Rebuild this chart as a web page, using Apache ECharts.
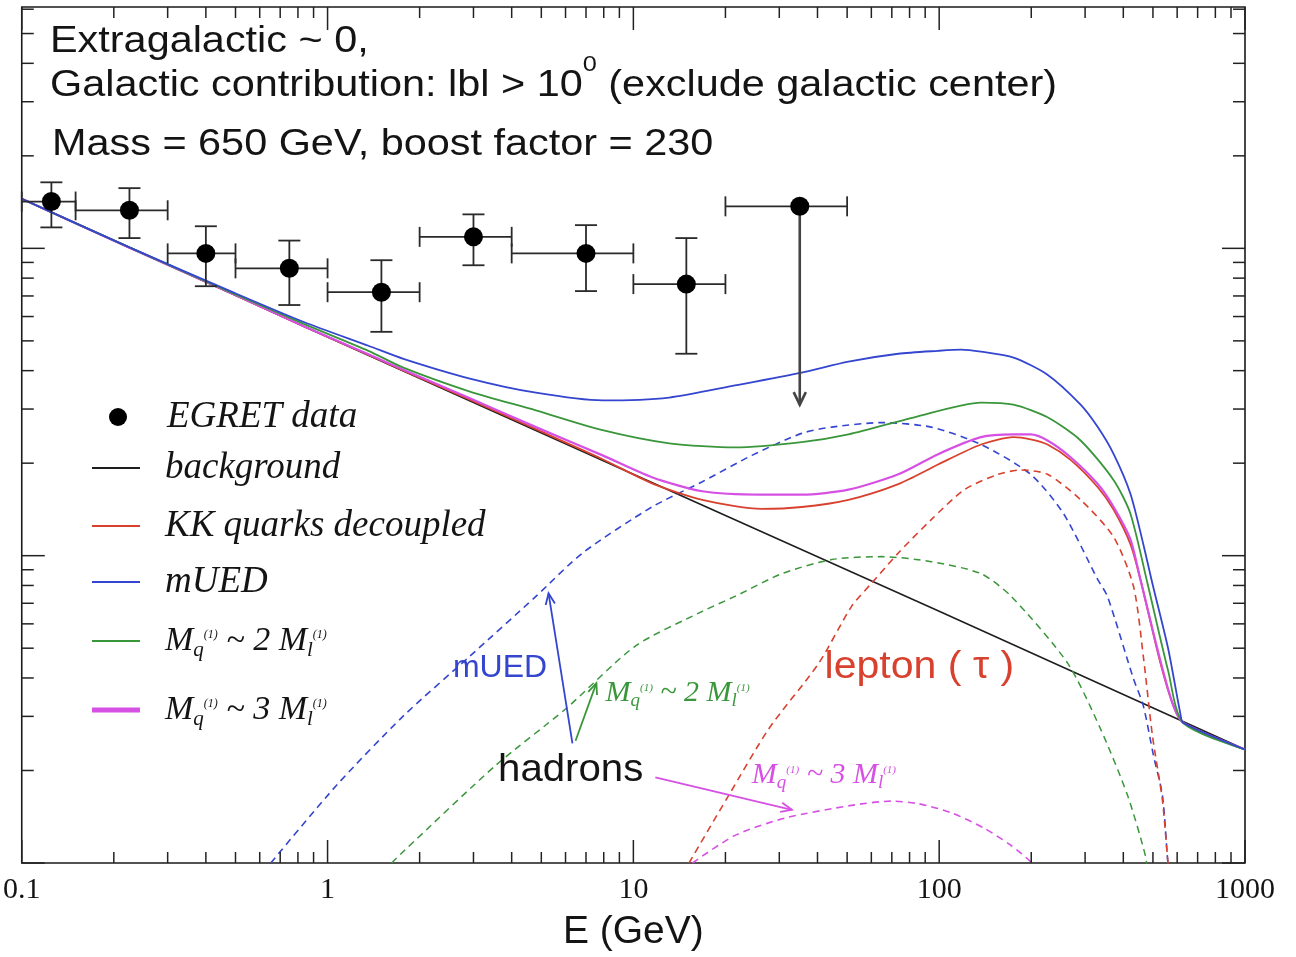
<!DOCTYPE html>
<html>
<head>
<meta charset="utf-8">
<title>Gamma-ray spectrum: EGRET data and KK dark matter annihilation</title>
<script src="https://cdn.jsdelivr.net/npm/echarts@6.0.0/dist/echarts.min.js"></script>
<style>
  html, body { margin: 0; padding: 0; background: #ffffff; }
  #chart { width: 1296px; height: 957px; }
</style>
</head>
<body>
<div id="chart"></div>
<script>
// ---------------- axis ranges and tick values ----------------
const xRange = [0.1, 1000];          // E (GeV)
const yRange = [1e-8, 6.1e-6];       // E^2 dN/dE
const xMajorTicks = [0.1, 1, 10, 100, 1000];
const xMinorTicks = [0.2, 0.3, 0.4, 0.5, 0.6, 0.7, 0.8, 0.9,
                     2, 3, 4, 5, 6, 7, 8, 9,
                     20, 30, 40, 50, 60, 70, 80, 90,
                     200, 300, 400, 500, 600, 700, 800, 900];
const yMajorTicks = [1e-8, 1e-7, 1e-6];
const yMinorTicks = [2e-8, 3e-8, 4e-8, 5e-8, 6e-8, 7e-8, 8e-8, 9e-8,
                     2e-7, 3e-7, 4e-7, 5e-7, 6e-7, 7e-7, 8e-7, 9e-7,
                     2e-6, 3e-6, 4e-6, 5e-6, 6e-6];

// ---------------- EGRET measurements ----------------
const egretE         = [0.125, 0.225, 0.40, 0.75, 1.50, 3.0, 7.0, 14.9, 35];
const egretFlux      = [1.42e-6, 1.33e-6, 9.63e-7, 8.61e-7, 7.20e-7, 1.09e-6, 9.63e-7, 7.65e-7, 1.37e-6];
const egretELow      = [0.1, 0.15, 0.3, 0.5, 1, 2, 4, 10, 20];
const egretEHigh     = [0.15, 0.3, 0.5, 1, 2, 4, 10, 20, 50];
const egretFluxLow   = [1.17e-6, 1.08e-6, 7.53e-7, 6.54e-7, 5.35e-7, 8.81e-7, 7.26e-7, 4.54e-7, 3.10e-7];
const egretFluxHigh  = [1.64e-6, 1.57e-6, 1.18e-6, 1.06e-6, 9.15e-7, 1.29e-6, 1.19e-6, 1.08e-6, 1.37e-6];
const egretUpperLimit = [0, 0, 0, 0, 0, 0, 0, 0, 1];

// ---------------- background ----------------
const backgroundE    = [0.1, 1, 10, 100, 1000];
const backgroundFlux = [1.45e-6, 5.15e-7, 1.84e-7, 6.59e-8, 2.34e-8];

// ---------------- totals (background + signal) ----------------
const muedE    = [0.1, 0.225, 0.498, 0.836, 1.36, 1.77, 2.92, 4.80, 7.93, 13.1, 21.5, 35.5, 50.5, 73.5, 99.2,
                  118, 137, 175, 226, 290, 330, 372, 422, 465, 498, 561, 614, 628, 1000];
const muedFlux = [1.45e-6, 1.007e-6, 7.15e-7, 5.76e-7, 4.82e-7, 4.37e-7, 3.77e-7, 3.39e-7, 3.20e-7, 3.27e-7,
                  3.58e-7, 3.94e-7, 4.28e-7, 4.54e-7, 4.64e-7, 4.68e-7, 4.61e-7, 4.41e-7, 3.88e-7, 3.10e-7,
                  2.62e-7, 2.14e-7, 1.59e-7, 1.09e-7, 8.12e-8, 4.97e-8, 3.08e-8, 2.86e-8, 2.34e-8];

const mq2E    = [0.1, 0.225, 0.498, 0.836, 1.36, 1.77, 2.92, 4.80, 7.93, 13.1, 21.5, 35.5, 50.5, 82.9,
                 137, 175, 226, 290, 372, 422, 480, 561, 628, 1000];
const mq2Flux = [1.45e-6, 1.007e-6, 7.10e-7, 5.68e-7, 4.64e-7, 4.09e-7, 3.42e-7, 2.97e-7, 2.56e-7, 2.32e-7,
                 2.25e-7, 2.34e-7, 2.48e-7, 2.82e-7, 3.15e-7, 3.10e-7, 2.82e-7, 2.37e-7, 1.76e-7, 1.37e-7,
                 8.12e-8, 4.21e-8, 2.86e-8, 2.34e-8];

const kkE    = [0.1, 0.225, 0.498, 0.836, 1.36, 1.77, 2.92, 4.80, 7.93, 11.5, 16.8, 26.3, 35.5, 50.5, 73.5,
                99.2, 137, 175, 199, 226, 269, 330, 372, 422, 455, 529, 583, 628, 1000];
const kkFlux = [1.45e-6, 1.005e-6, 7.06e-7, 5.57e-7, 4.50e-7, 4.00e-7, 3.22e-7, 2.58e-7, 2.06e-7, 1.72e-7,
                1.52e-7, 1.42e-7, 1.44e-7, 1.52e-7, 1.71e-7, 1.98e-7, 2.30e-7, 2.43e-7, 2.39e-7, 2.30e-7,
                2.05e-7, 1.67e-7, 1.41e-7, 1.09e-7, 8.36e-8, 4.47e-8, 3.25e-8, 2.86e-8, 2.34e-8];

const mq3E    = [0.1, 0.225, 0.498, 0.836, 1.36, 1.77, 2.92, 4.80, 7.93, 11.5, 16.8, 26.3, 35.5, 50.5, 73.5,
                 99.2, 137, 175, 199, 226, 269, 330, 372, 422, 455, 529, 583, 628, 1000];
const mq3Flux = [1.45e-6, 1.005e-6, 7.06e-7, 5.58e-7, 4.52e-7, 4.03e-7, 3.25e-7, 2.62e-7, 2.12e-7, 1.80e-7,
                 1.62e-7, 1.58e-7, 1.58e-7, 1.64e-7, 1.84e-7, 2.14e-7, 2.43e-7, 2.48e-7, 2.48e-7, 2.37e-7,
                 2.09e-7, 1.71e-7, 1.44e-7, 1.13e-7, 8.36e-8, 4.54e-8, 3.25e-8, 2.86e-8, 2.34e-8];

// ---------------- individual signal components ----------------
const muedHadronE    = [0.652, 1.07, 1.77, 2.92, 4.80, 6.82, 11.5, 16.8, 24.4, 35.5, 44.5, 64.7, 94.2, 137,
                        199, 255, 330, 355, 432, 465, 502, 537, 557, 565];
const muedHadronFlux = [1.0e-8, 1.79e-8, 3.01e-8, 4.71e-8, 7.37e-8, 1.02e-7, 1.44e-7, 1.74e-7, 2.12e-7,
                        2.50e-7, 2.62e-7, 2.71e-7, 2.62e-7, 2.30e-7, 1.84e-7, 1.37e-7, 8.36e-8, 7.37e-8,
                        3.97e-8, 3.25e-8, 2.24e-8, 1.66e-8, 1.06e-8, 0.9e-8];

const leptonE    = [15.2, 20.5, 27.7, 40.4, 51.7, 60.0, 73.5, 94.2, 121, 156, 185, 226, 290, 372, 432,
                    465, 498, 537, 557, 565];
const leptonFlux = [1.0e-8, 1.66e-8, 2.73e-8, 4.47e-8, 6.84e-8, 8.12e-8, 1.02e-7, 1.31e-7, 1.64e-7,
                    1.84e-7, 1.90e-7, 1.84e-7, 1.52e-7, 1.15e-7, 7.94e-8, 4.71e-8, 2.60e-8, 1.60e-8,
                    1.06e-8, 0.9e-8];

const mq2HadronE    = [1.62, 1.77, 3.55, 6.00, 10.15, 16.8, 21.5, 30.6, 44.5, 64.7, 94.2, 137, 172, 263,
                       337, 413, 472, 483];
const mq2HadronFlux = [1.0e-8, 1.09e-8, 2.08e-8, 3.17e-8, 5.08e-8, 6.59e-8, 7.37e-8, 8.74e-8, 9.71e-8,
                       9.93e-8, 9.56e-8, 8.74e-8, 7.37e-8, 4.47e-8, 2.73e-8, 1.66e-8, 1.06e-8, 0.9e-8];

const mq3HadronE    = [15.6, 21.5, 31.3, 51.7, 69.8, 85.4, 109, 140, 172, 199, 207];
const mq3HadronFlux = [1.0e-8, 1.23e-8, 1.40e-8, 1.54e-8, 1.59e-8, 1.56e-8, 1.46e-8, 1.30e-8, 1.14e-8,
                       1.01e-8, 0.95e-8];

// ---------------- styling ----------------
const SANS = '"Liberation Sans", Arial, Helvetica, sans-serif';
const SERIF = '"Liberation Serif", "Times New Roman", Times, serif';
const COLORS = {
  black: '#1e1e1e',
  red: '#d8412e',
  blue: '#3446cf',
  green: '#3a963a',
  magenta: '#d650e4',
  ink: '#141414'
};

const pairs = (xs, ys) => xs.map((x, i) => [x, ys[i]]);

function curve(name, xs, ys, color, width, dashed, z) {
  return {
    name: name,
    type: 'line',
    data: pairs(xs, ys),
    symbol: 'none',
    smooth: dashed === null ? false : 0.25,
    clip: true,
    silent: true,
    z: z,
    lineStyle: { color: color, width: width, type: dashed ? [7, 5] : 'solid' },
    itemStyle: { color: color },
    emphasis: { disabled: true }
  };
}

// italic "M_q(1) ~ n M_l(1)" label in rich-text markup
function massRatioText(n) {
  return '{m|M}{q|q}{s|(1)}{m| ~ ' + n + ' M}{q|l}{s|(1)}';
}
function massRatioRich(color, size) {
  const sub = Math.round(size * 0.63);
  const sup = Math.round(size * 0.37);
  return {
    m: { fontFamily: SERIF, fontStyle: 'italic', fontSize: size, lineHeight: size + 6, fill: color, color: color },
    q: { fontFamily: SERIF, fontStyle: 'italic', fontSize: sub, padding: [Math.round(size * 0.53), 0, 0, 0], fill: color, color: color },
    s: { fontFamily: SERIF, fontStyle: 'italic', fontSize: sup, padding: [0, 0, Math.round(size * 0.33), 0], fill: color, color: color }
  };
}

// ---------------- annotations placed in data coordinates ----------------
const pointerArrows = [
  { from: [6.32, 2.45e-8], to: [5.28, 7.54e-8], color: COLORS.blue },
  { from: [6.47, 2.50e-8], to: [7.57, 3.85e-8], color: COLORS.green },
  { from: [11.8, 1.90e-8], to: [33.0, 1.49e-8], color: COLORS.magenta }
];
const notes = [
  { at: [2.57, 4.31e-8], text: 'mUED', stretch: 1,
    style: { fontFamily: SANS, fontSize: 32, fill: COLORS.blue } },
  { at: [8.11, 3.58e-8], text: massRatioText(2), stretch: 1,
    style: { rich: massRatioRich(COLORS.green, 30) } },
  { at: [3.61, 2.0e-8], text: 'hadrons', stretch: 1.03,
    style: { fontFamily: SANS, fontSize: 39, fill: COLORS.ink } },
  { at: [24.4, 1.93e-8], text: massRatioText(3), stretch: 1,
    style: { rich: massRatioRich(COLORS.magenta, 30) } },
  { at: [42.2, 4.31e-8], text: 'lepton ( \u03c4 )', stretch: 1.08,
    style: { fontFamily: SANS, fontSize: 38, fill: COLORS.red } }
];

function arrowHead(x1, y1, x2, y2, len, spread) {
  const a = Math.atan2(y2 - y1, x2 - x1);
  return [
    [x2 - len * Math.cos(a - spread), y2 - len * Math.sin(a - spread)],
    [x2, y2],
    [x2 - len * Math.cos(a + spread), y2 - len * Math.sin(a + spread)]
  ];
}

// inward tick marks on all four sides of the frame
function renderXTicks(params, api) {
  const cs = params.coordSys;
  const x = api.coord([api.value(0), api.value(1)])[0];
  const len = api.value(2) ? 23 : 11;
  const bottom = cs.y + cs.height, top = cs.y;
  const st = { stroke: '#222', lineWidth: 1.5 };
  return { type: 'group', children: [
    { type: 'line', shape: { x1: x, y1: bottom, x2: x, y2: bottom - len }, style: st },
    { type: 'line', shape: { x1: x, y1: top, x2: x, y2: top + len }, style: st }
  ] };
}
function renderYTicks(params, api) {
  const cs = params.coordSys;
  const y = api.coord([api.value(0), api.value(1)])[1];
  const len = api.value(2) ? 23 : 12;
  const left = cs.x, right = cs.x + cs.width;
  const st = { stroke: '#222', lineWidth: 1.5 };
  return { type: 'group', children: [
    { type: 'line', shape: { x1: left, y1: y, x2: left + len, y2: y }, style: st },
    { type: 'line', shape: { x1: right, y1: y, x2: right - len, y2: y }, style: st }
  ] };
}

function renderErrorBar(params, api) {
  const e = api.value(0), f = api.value(1);
  const p = api.coord([e, f]);
  const l = api.coord([api.value(2), f]);
  const r = api.coord([api.value(3), f]);
  const lo = api.coord([e, api.value(4)]);
  const hi = api.coord([e, api.value(5)]);
  const upper = api.value(6) === 1;
  const st = { stroke: '#2a2a2a', lineWidth: 1.8 };
  const capH = 10, capV = 11;
  const kids = [
    { type: 'line', shape: { x1: l[0], y1: l[1], x2: r[0], y2: r[1] }, style: st },
    { type: 'line', shape: { x1: l[0], y1: l[1] - capH, x2: l[0], y2: l[1] + capH }, style: st },
    { type: 'line', shape: { x1: r[0], y1: r[1] - capH, x2: r[0], y2: r[1] + capH }, style: st }
  ];
  if (!upper) {
    kids.push(
      { type: 'line', shape: { x1: lo[0], y1: lo[1], x2: hi[0], y2: hi[1] }, style: st },
      { type: 'line', shape: { x1: lo[0] - capV, y1: lo[1], x2: lo[0] + capV, y2: lo[1] }, style: st },
      { type: 'line', shape: { x1: hi[0] - capV, y1: hi[1], x2: hi[0] + capV, y2: hi[1] }, style: st }
    );
  } else {
    const ast = { stroke: '#444', lineWidth: 2.6, fill: null };
    kids.push(
      { type: 'line', shape: { x1: p[0], y1: p[1], x2: lo[0], y2: lo[1] }, style: ast },
      { type: 'polyline', shape: { points: arrowHead(p[0], p[1], lo[0], lo[1], 14, 0.45) }, style: ast }
    );
  }
  return { type: 'group', children: kids };
}

function renderArrows(params, api) {
  const a = pointerArrows[api.value(4)];
  const p1 = api.coord([api.value(0), api.value(1)]);
  const p2 = api.coord([api.value(2), api.value(3)]);
  const st = { stroke: a.color, lineWidth: 1.8, fill: null };
  return { type: 'group', children: [
    { type: 'line', shape: { x1: p1[0], y1: p1[1], x2: p2[0], y2: p2[1] }, style: st },
    { type: 'polyline', shape: { points: arrowHead(p1[0], p1[1], p2[0], p2[1], 12, 0.4) }, style: st }
  ] };
}

function renderNotes(params, api) {
  const n = notes[api.value(2)];
  const p = api.coord([api.value(0), api.value(1)]);
  return {
    type: 'text', x: p[0], y: p[1], scaleX: n.stretch,
    style: Object.assign({ text: n.text, align: 'left', verticalAlign: 'middle' }, n.style)
  };
}

// ---------------- legend rows ----------------
const legendRich = {
  g: { width: 20 },
  t: { fontFamily: SERIF, fontStyle: 'italic', fontSize: 37, lineHeight: 40, color: COLORS.ink },
  m: { fontFamily: SERIF, fontStyle: 'italic', fontSize: 34, lineHeight: 40, color: COLORS.ink },
  q: { fontFamily: SERIF, fontStyle: 'italic', fontSize: 21, padding: [18, 0, 0, 0], color: COLORS.ink },
  s: { fontFamily: SERIF, fontStyle: 'italic', fontSize: 12, padding: [0, 0, 12, 0], color: COLORS.ink }
};
const LINE_ICON = 'path://M0,0H48V2H0Z';
const THICK_LINE_ICON = 'path://M0,0H48V5H0Z';
const legendRows = [
  { name: 'EGRET data', y: 417, left: 109, label: '{g| }{t|EGRET data}', icon: 'circle' },
  { name: 'background', y: 468, left: 92, label: '{g| }{t|background}', icon: LINE_ICON },
  { name: 'KK quarks decoupled', y: 526, left: 92, label: '{g| }{t|KK quarks decoupled}', icon: LINE_ICON },
  { name: 'mUED', y: 582, left: 92, label: '{g| }{t|mUED}', icon: LINE_ICON },
  { name: 'Mq ~ 2 Ml', y: 641, left: 92, label: '{g| }' + massRatioText(2), icon: LINE_ICON },
  { name: 'Mq ~ 3 Ml', y: 710, left: 92, label: '{g| }' + massRatioText(3), icon: THICK_LINE_ICON }
];

const chart = echarts.init(document.getElementById('chart'), null, { renderer: 'canvas' });

const option = {
  animation: false,
  backgroundColor: '#ffffff',
  grid: {
    left: 17, right: 51, top: 7, bottom: 89,
    show: true, borderColor: '#1a1a1a', borderWidth: 1.6, backgroundColor: 'transparent'
  },
  xAxis: {
    type: 'log', logBase: 10, min: xRange[0], max: xRange[1],
    axisLine: { show: false },
    axisTick: { show: false },
    splitLine: { show: false },
    axisLabel: {
      margin: 12,
      color: COLORS.ink,
      fontFamily: SERIF,
      fontSize: 30,
      formatter: (v) => String(+Number(v).toPrecision(3))
    },
    name: 'E (GeV)',
    nameLocation: 'middle',
    nameGap: 50,
    nameTextStyle: { fontFamily: SANS, fontSize: 39, color: COLORS.ink }
  },
  yAxis: {
    type: 'log', logBase: 10, min: yRange[0], max: yRange[1],
    axisLine: { show: false },
    axisTick: { show: false },
    splitLine: { show: false },
    axisLabel: { show: false }
  },
  legend: legendRows.map((row) => ({
    data: [{ name: row.name, icon: row.icon }],
    left: row.left,
    top: row.y - 20,
    padding: 0,
    itemWidth: 48,
    itemHeight: 18,
    selectedMode: false,
    formatter: () => row.label,
    textStyle: {
      color: COLORS.ink, fontFamily: SERIF, fontStyle: 'italic', fontSize: 37, lineHeight: 40,
      rich: legendRich
    }
  })),
  graphic: [
    { type: 'text', x: 50, y: 42, scaleX: 1.15, silent: true,
      style: { text: 'Extragalactic ~ 0,', fontFamily: SANS, fontSize: 36, fill: COLORS.ink, verticalAlign: 'middle' } },
    { type: 'text', x: 50, y: 86, scaleX: 1.15, silent: true,
      style: {
        text: '{a|Galactic contribution: lbl > 10}{s|0}{a| (exclude galactic center)}',
        verticalAlign: 'middle',
        rich: {
          a: { fontFamily: SANS, fontSize: 36, fill: COLORS.ink },
          s: { fontFamily: SANS, fontSize: 22, fill: COLORS.ink, padding: [0, 0, 42, 0] }
        }
      } },
    { type: 'text', x: 52, y: 145, scaleX: 1.15, silent: true,
      style: { text: 'Mass = 650 GeV, boost factor = 230', fontFamily: SANS, fontSize: 36, fill: COLORS.ink, verticalAlign: 'middle' } }
  ],
  series: [
    curve('background', backgroundE, backgroundFlux, COLORS.black, 1.6, null, 2),
    curve('mUED hadrons', muedHadronE, muedHadronFlux, COLORS.blue, 1.6, true, 2),
    curve('Mq ~ 2 Ml hadrons', mq2HadronE, mq2HadronFlux, COLORS.green, 1.5, true, 2),
    curve('Mq ~ 3 Ml hadrons', mq3HadronE, mq3HadronFlux, COLORS.magenta, 1.6, true, 2),
    curve('lepton', leptonE, leptonFlux, COLORS.red, 1.6, true, 2),
    curve('KK quarks decoupled', kkE, kkFlux, COLORS.red, 1.8, false, 3),
    curve('Mq ~ 3 Ml', mq3E, mq3Flux, COLORS.magenta, 2.2, false, 3),
    curve('Mq ~ 2 Ml', mq2E, mq2Flux, COLORS.green, 1.8, false, 3),
    curve('mUED', muedE, muedFlux, COLORS.blue, 1.8, false, 3),
    {
      name: 'EGRET errors',
      type: 'custom',
      renderItem: renderErrorBar,
      encode: { x: 0, y: 1 },
      data: egretE.map((e, i) => [e, egretFlux[i], egretELow[i], egretEHigh[i],
                                  egretFluxLow[i], egretFluxHigh[i], egretUpperLimit[i]]),
      silent: true,
      z: 4
    },
    {
      name: 'EGRET data',
      type: 'scatter',
      data: pairs(egretE, egretFlux),
      symbol: 'circle',
      symbolSize: 19,
      itemStyle: { color: '#000000', opacity: 1 },
      silent: true,
      z: 5
    },
    {
      name: 'x ticks',
      type: 'custom',
      renderItem: renderXTicks,
      encode: { x: 0, y: 1 },
      data: xMajorTicks.map((v) => [v, yRange[0], 1]).concat(xMinorTicks.map((v) => [v, yRange[0], 0])),
      silent: true,
      z: 6
    },
    {
      name: 'y ticks',
      type: 'custom',
      renderItem: renderYTicks,
      encode: { x: 0, y: 1 },
      data: yMajorTicks.map((v) => [xRange[0], v, 1]).concat(yMinorTicks.map((v) => [xRange[0], v, 0])),
      silent: true,
      z: 6
    },
    {
      name: 'pointers',
      type: 'custom',
      renderItem: renderArrows,
      encode: { x: [0, 2], y: [1, 3] },
      data: pointerArrows.map((a, i) => [a.from[0], a.from[1], a.to[0], a.to[1], i]),
      silent: true,
      z: 7
    },
    {
      name: 'notes',
      type: 'custom',
      renderItem: renderNotes,
      encode: { x: 0, y: 1 },
      data: notes.map((n, i) => [n.at[0], n.at[1], i]),
      silent: true,
      z: 7
    }
  ]
};

chart.setOption(option);
</script>
</body>
</html>
